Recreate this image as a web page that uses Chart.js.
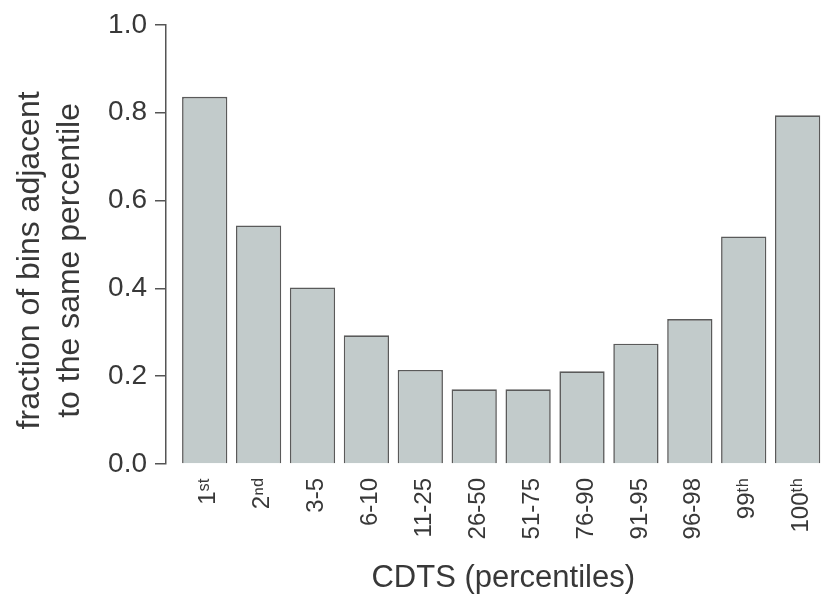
<!DOCTYPE html>
<html>
<head>
<meta charset="utf-8">
<script src="https://cdn.jsdelivr.net/npm/chart.js@4/dist/chart.umd.min.js"></script>
<style>
  html, body { margin: 0; padding: 0; background: #ffffff; }
  #wrap { width: 825px; height: 604px; }
</style>
</head>
<body>
<div id="wrap"><canvas id="chart" width="825" height="604"></canvas></div>
<script>
// CDTS percentile bins
const categories = ['1ˢᵗ', '2ⁿᵈ', '3-5', '6-10', '11-25', '26-50', '51-75', '76-90', '91-95', '96-98', '99ᵗʰ', '100ᵗʰ'];
// fraction of bins adjacent to a bin of the same percentile
const fractions = [0.836, 0.543, 0.402, 0.293, 0.214, 0.170, 0.170, 0.211, 0.274, 0.330, 0.518, 0.794];
// y-axis tick values
const yTicks = [0.0, 0.2, 0.4, 0.6, 0.8, 1.0];

const FONT = '"Liberation Sans", Arial, sans-serif';
const TEXT = '#383838';
const AXIS = '#555555';

const points = fractions.map((v, i) => ({ x: i + 1, y: v }));

new Chart(document.getElementById('chart'), {
  type: 'bar',
  data: {
    datasets: [{
      data: points,
      backgroundColor: '#c2cbcb',
      borderColor: '#5a5a5a',
      borderWidth: 1.6,
      barPercentage: 0.84,
      categoryPercentage: 1.0
    }]
  },
  options: {
    responsive: false,
    animation: false,
    layout: { padding: { top: 24, right: 0, bottom: 0, left: 0 } },
    plugins: {
      legend: { display: false },
      tooltip: { enabled: false }
    },
    scales: {
      x: {
        type: 'linear',
        min: 0.282,
        max: 12.508,
        offset: false,
        afterBuildTicks: (scale) => { scale.ticks = categories.map((_, i) => ({ value: i + 1 })); },
        afterFit: (scale) => {
          scale.height = 140;
          scale.paddingLeft = 0;
          scale.paddingRight = 0;
        },
        grid: { display: false, drawTicks: false },
        border: { display: false },
        ticks: {
          autoSkip: false,
          minRotation: 90,
          maxRotation: 90,
          padding: 14,
          labelOffset: 4,
          color: TEXT,
          font: { family: FONT, size: 24 },
          callback: (value, index) => categories[index]
        },
        title: {
          display: true,
          text: '\u2002CDTS (percentiles)',
          color: TEXT,
          font: { family: FONT, size: 31, lineHeight: 1.2 },
          padding: { top: 0, bottom: 7 }
        }
      },
      y: {
        min: 0,
        max: 1,
        afterBuildTicks: (scale) => { scale.ticks = yTicks.map(v => ({ value: v })); },
        afterFit: (scale) => { scale.width = 166; },
        grid: { drawOnChartArea: false, drawTicks: true, tickLength: 11, color: AXIS, lineWidth: 1.5 },
        border: { display: true, color: AXIS, width: 1.5 },
        ticks: {
          padding: 8,
          color: TEXT,
          font: { family: FONT, size: 28 },
          callback: (value) => Number(value).toFixed(1)
        },
        title: {
          display: true,
          text: ['fraction of bins adjacent\u2002\u2002', 'to the same percentile\u2002\u2002'],
          color: TEXT,
          font: { family: FONT, size: 32, lineHeight: '40px' },
          padding: { top: 10, bottom: 0 }
        }
      }
    }
  }
});
</script>
</body>
</html>
